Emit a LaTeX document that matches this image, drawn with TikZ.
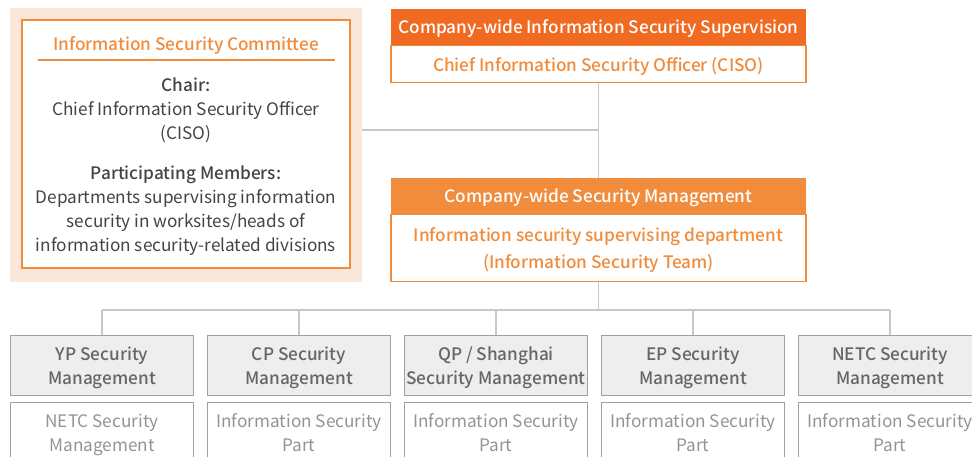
\documentclass[tikz,border=0pt]{standalone}
\usepackage{fontspec}
\setmainfont{Noto Sans CJK KR}[BoldFont={Noto Sans CJK KR Medium}]
\usetikzlibrary{positioning}

\definecolor{orangeFonce}{HTML}{F06A22}
\definecolor{orangeClair}{HTML}{F08C3C}
\definecolor{peche}{HTML}{FBE7D9}
\definecolor{texteGris}{HTML}{444444}
\definecolor{ligneGris}{HTML}{C8C8C8}
\definecolor{cadreGris}{HTML}{A0A0A0}
\definecolor{fondGris}{HTML}{EDEEED}

\tikzset{
  lien/.style={draw=ligneGris, line width=1pt},
  entete/.style={minimum width=311.25pt, minimum height=27pt, inner sep=0pt, text=white, font=\fontsize{12.9}{18}\selectfont\bfseries},
  corps/.style={draw=orangeClair, line width=0.8pt, fill=white, minimum width=311.25pt, inner sep=0pt, text=orangeClair},
  siteTete/.style={draw=cadreGris, line width=0.7pt, fill=fondGris, minimum width=137.25pt, minimum height=45pt, inner sep=0pt, align=center, text=black!60, font=\fontsize{12.9}{18}\selectfont\bfseries},
  sitePartie/.style={draw=cadreGris, line width=0.7pt, fill=white, minimum width=137.25pt, minimum height=45pt, inner sep=0pt, align=center, text=black!42}
}

\begin{document}
\begin{tikzpicture}[x=0.75pt, y=-0.75pt, font=\fontsize{12.9}{18}\selectfont, every node/.append style={text depth=0pt}]
  \useasboundingbox (0,0) rectangle (972,457);
  \clip (0,0) rectangle (972,457);

  % Comite
  \node (comiteFond) [fill=peche, minimum width=264pt, minimum height=205.5pt, inner sep=0pt] at (186,145) {};
  \node (comite) [draw=orangeClair, line width=0.8pt, fill=white, minimum width=246pt, minimum height=186pt, inner sep=0pt] at (186,144) {};
  \node (comiteTitre) [text=orangeClair, font=\fontsize{12.9}{18}\selectfont\bfseries] at (186,44) {Information Security Committee};
  \draw[orangeClair, line width=0.8pt] (38,60) -- (335,60);
  \node (president) [align=center, text=texteGris] at (186,109) {\textbf{Chair:}\\Chief Information Security Officer\\(CISO)};
  \node (membres) [align=center, text=texteGris] at (186,208.5) {\textbf{Participating Members:}\\Departments supervising information\\security in worksites/heads of\\information security-related divisions};

  % Supervision
  \node (supTete) [entete, fill=orangeFonce] at (598.5,27) {Company-wide Information Security Supervision};
  \node (supCorps) [corps, below=0pt of supTete, minimum height=27.75pt, font=\fontsize{12.9}{18}\selectfont\bfseries] {Chief Information Security Officer (CISO)};

  % Gestion
  \node (gestTete) [entete, fill=orangeClair] at (598.5,196) {Company-wide Security Management};
  \node (gestCorps) [corps, below=0pt of gestTete, minimum height=50.25pt, align=center, font=\fontsize{12.9}{20}\selectfont\bfseries] {Information security supervising department\\(Information Security Team)};

  % Sites
  \foreach \cx/\titre/\partie [count=\i] in {
      102/{YP Security\\Management}/{NETC Security\\Management},
      299/{CP Security\\Management}/{Information Security\\Part},
      496/{QP / Shanghai\\Security Management}/{Information Security\\Part},
      693/{EP Security\\Management}/{Information Security\\Part},
      890/{NETC Security\\Management}/{Information Security\\Part}} {
    \node (site\i) [siteTete] at (\cx,365.5) {\titre};
    \node (part\i) [sitePartie, below=4.5pt of site\i] {\partie};
  }

  % Liens
  \coordinate (jonction) at (598.5,130);
  \coordinate (bus) at (598.5,310);
  \draw[lien] (supCorps) -- (gestTete);
  \draw[lien] (comiteFond.east |- jonction) -- (jonction);
  \draw[lien] (gestCorps) -- (bus);
  \draw[lien] (site1.north |- bus) -- (site5.north |- bus);
  \foreach \i in {1,...,5}
    \draw[lien] (site\i.north |- bus) -- (site\i);
\end{tikzpicture}
\end{document}
